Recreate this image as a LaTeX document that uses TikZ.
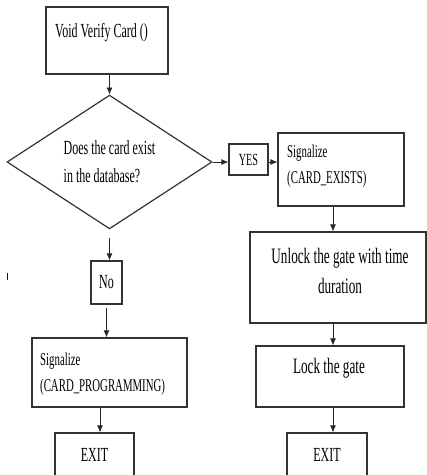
\documentclass[tikz,border=0pt]{standalone}
\usepackage{fontspec}
\usetikzlibrary{arrows.meta,shapes.geometric}
\newfontfamily\boxfont[FakeStretch=0.6]{Liberation Serif}
\tikzset{
  box/.style={draw=black!80, line width=1.2pt, rectangle, inner sep=0pt},
  flow/.style={draw=black!85, line width=0.8pt, -{Latex[length=7pt,width=6pt]}},
  txt/.style={inner sep=0pt, align=left, font=\boxfont\fontsize{18}{26}\selectfont},
  midtxt/.style={font=\boxfont\fontsize{20}{28}\selectfont},
  bigtxt/.style={font=\boxfont\fontsize{22}{30}\selectfont},
}

\begin{document}
\begin{tikzpicture}[x=1pt, y=-1pt]
	%%%%% START %%%%%
	\useasboundingbox (0,0) rectangle (427,475);
	\clip (0,0) rectangle (427,475);
	
	\node[box, minimum width=122pt, minimum height=67pt] (start) at (107,40.5) {};
	\node[txt, midtxt, anchor=base west] (starttxt) at (55,37) {Void Verify Card ()};
	
	\node[diamond, draw=black!80, line width=1.2pt, minimum width=205pt, minimum height=130pt, inner sep=0pt, align=left, midtxt] (check) at (109.5,162) {Does the card exist\\in the database?};
	
	\node[box, minimum width=39pt, minimum height=31pt, font=\boxfont\fontsize{17}{20}\selectfont] (yes) at (248.5,159.5) {YES};
	\node[box, minimum width=126pt, minimum height=73pt] (sigyes) at (341,169.5) {};
	\node[txt, anchor=base west] (sigyestxt) at (287,183) {Signalize\\(CARD\_EXISTS)};
	
	\node[box, minimum width=176pt, minimum height=91pt] (unlock) at (338,277.5) {};
	\node[txt, bigtxt, align=center, anchor=base] (unlocktxt) at (340,293) {Unlock the gate with time\\duration};
	\node[box, minimum width=148pt, minimum height=61pt] (lock) at (330,376.5) {};
	\node[txt, bigtxt, anchor=base] (locktxt) at (329,373) {Lock the gate};
	\node[box, minimum width=80pt, minimum height=44pt, midtxt] (exitr) at (327,455) {EXIT};
	
	\node[box, minimum width=31pt, minimum height=43pt, midtxt] (no) at (106.5,282.5) {No};
	\node[box, minimum width=155pt, minimum height=69pt] (signo) at (109.5,372.5) {};
	\node[txt, anchor=base west] (signotxt) at (40,391) {Signalize\\(CARD\_PROGRAMMING)};
	\node[box, minimum width=79pt, minimum height=44pt, midtxt] (exitl) at (94.5,455) {EXIT};
	
	% connectors
	\coordinate (rx) at (333,0);
	\coordinate (lx) at (100,0);
	\draw[flow] (start.south -| check.north) -- (check.north);
	\draw[flow] (check.east) -- (check.east -| yes.west);
	\draw[flow] (yes.east |- check.east) -- (sigyes.west |- check.east);
	\draw[flow] (sigyes.south -| rx) -- (unlock.north -| rx);
	\draw[flow] (unlock.south -| rx) -- (lock.north -| rx);
	\draw[flow] (lock.south -| rx) -- (exitr.north -| rx);
	\draw[flow, shorten <=8pt] (check.south) -- (check.south |- no.north);
	\draw[flow, shorten <=3pt] (no.south) -- (no.south |- signo.north);
	\draw[flow] (signo.south -| lx) -- (exitl.north -| lx);
	
	\draw[blue!60!black, line width=0.8pt] (7,273) -- (7,280);
	%%%%% END %%%%%
\end{tikzpicture}
\end{document}
